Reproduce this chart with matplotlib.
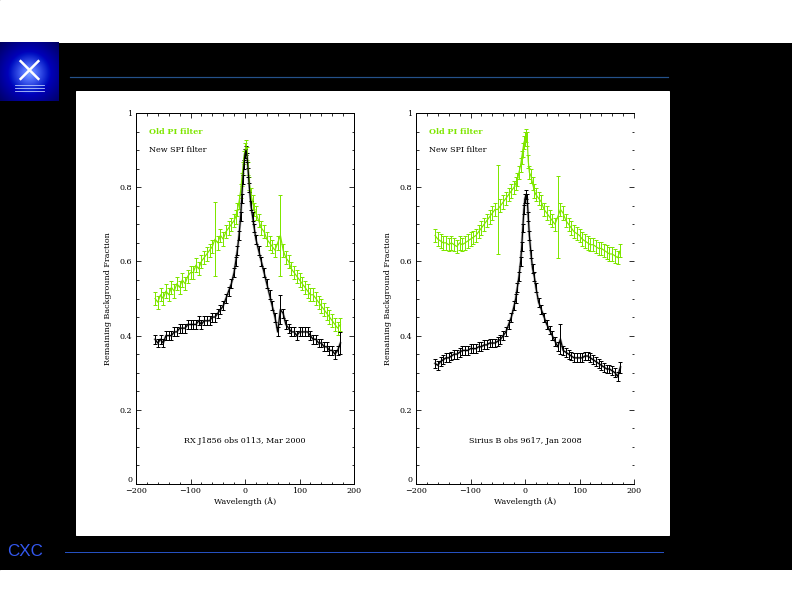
#plot.py
"""Remaining background fraction vs wavelength, old PI filter vs new SPI filter."""

import numpy as np
import matplotlib
matplotlib.use("Agg")
from matplotlib import pyplot as plt
from matplotlib.patches import Rectangle
from matplotlib.lines import Line2D

#Wavelength grid (Angstrom)
wave = [-165, -160, -155, -150, -145, -140, -135, -130, -125, -120, -115, -110,
        -105, -100, -95, -90, -85, -80, -75, -70, -65, -60, -55, -50, -45, -40,
        -35, -30, -25,
        -20, -17, -14, -11, -8, -6, -4, -2, 0, 2, 4, 6, 8, 11, 14, 17, 20,
        25, 30, 35, 40, 45, 50, 55, 60, 65, 70, 75, 80, 85, 90, 95, 100, 105,
        110, 115, 120, 125, 130, 135, 140, 145, 150, 155, 160, 165, 170, 175]

#RX J1856, obs 0113
rxj_old = [0.50, 0.49, 0.51, 0.50, 0.52, 0.51, 0.53, 0.52, 0.54, 0.53, 0.55, 0.54,
           0.56, 0.57, 0.57, 0.59, 0.58, 0.60, 0.61, 0.62, 0.63, 0.64, 0.66, 0.65,
           0.67, 0.66, 0.68, 0.69, 0.70,
           0.71, 0.72, 0.74, 0.76, 0.79, 0.82, 0.85, 0.88, 0.90, 0.91, 0.89, 0.85,
           0.81, 0.78, 0.76, 0.74, 0.73,
           0.71, 0.69, 0.68, 0.66, 0.65, 0.64, 0.63, 0.65, 0.67, 0.63, 0.61, 0.60,
           0.58, 0.57, 0.56, 0.55, 0.54, 0.53, 0.52, 0.51, 0.51, 0.50, 0.49, 0.48,
           0.47, 0.46, 0.45, 0.44, 0.43, 0.42, 0.43]
rxj_new = [0.39, 0.38, 0.39, 0.38, 0.40, 0.40, 0.40, 0.41, 0.41, 0.42, 0.42, 0.42,
           0.43, 0.43, 0.43, 0.43, 0.44, 0.43, 0.44, 0.44, 0.44, 0.45, 0.45, 0.46,
           0.47, 0.48, 0.50, 0.52, 0.54,
           0.57, 0.60, 0.63, 0.67, 0.72, 0.77, 0.82, 0.86, 0.89, 0.90, 0.88, 0.84,
           0.80, 0.75, 0.72, 0.69, 0.66,
           0.63, 0.60, 0.57, 0.54, 0.51, 0.48, 0.45, 0.41, 0.47, 0.46, 0.43, 0.42,
           0.41, 0.41, 0.40, 0.41, 0.41, 0.41, 0.41, 0.40, 0.39, 0.39, 0.38, 0.38,
           0.37, 0.37, 0.36, 0.36, 0.35, 0.36, 0.38]

#Sirius B, obs 9617
sir_old = [0.67, 0.66, 0.655, 0.65, 0.65, 0.645, 0.65, 0.645, 0.64, 0.65, 0.645, 0.65,
           0.655, 0.66, 0.665, 0.67, 0.68, 0.69, 0.70, 0.71, 0.72, 0.73, 0.74, 0.74,
           0.75, 0.76, 0.77, 0.78, 0.79,
           0.80, 0.81, 0.82, 0.84, 0.86, 0.88, 0.90, 0.92, 0.93, 0.94, 0.93, 0.87,
           0.84, 0.83, 0.81, 0.79, 0.78,
           0.77, 0.76, 0.74, 0.73, 0.72, 0.71, 0.70, 0.72, 0.74, 0.73, 0.71, 0.70,
           0.69, 0.68, 0.675, 0.67, 0.66, 0.655, 0.65, 0.645, 0.645, 0.64, 0.635,
           0.635, 0.63, 0.625, 0.62, 0.62, 0.615, 0.61, 0.63]
sir_new = [0.325, 0.32, 0.33, 0.335, 0.34, 0.34, 0.345, 0.35, 0.35, 0.355, 0.36, 0.36,
           0.36, 0.365, 0.365, 0.365, 0.37, 0.37, 0.375, 0.375, 0.38, 0.38, 0.38,
           0.385, 0.39, 0.40, 0.41, 0.43, 0.45,
           0.48, 0.50, 0.53, 0.56, 0.60, 0.64, 0.69, 0.74, 0.77, 0.78, 0.77, 0.72,
           0.67, 0.62, 0.58, 0.56, 0.53,
           0.49, 0.47, 0.45, 0.43, 0.415, 0.40, 0.385, 0.37, 0.39, 0.36, 0.355, 0.35,
           0.345, 0.34, 0.34, 0.34, 0.34, 0.345, 0.345, 0.34, 0.335, 0.33, 0.325,
           0.32, 0.315, 0.31, 0.31, 0.305, 0.30, 0.29, 0.315]

#Typical error sizes, plus a few large outliers {wavelength: error}
err_old = 0.018
err_new = 0.012
rxj_old_big = {-55: 0.10, 65: 0.11}
rxj_new_big = {65: 0.04, 175: 0.03}
sir_old_big = {-50: 0.12, 60: 0.11}
sir_new_big = {65: 0.04, 175: 0.015}

panels = [
    ("RX J1856 obs 0113, Mar 2000", rxj_old, rxj_new, rxj_old_big, rxj_new_big),
    ("Sirius B obs 9617, Jan 2008", sir_old, sir_new, sir_old_big, sir_new_big),
]

GREEN = "#7ee600"
W, H = 792, 612


def errs(base, big):
    e = np.full(len(wave), base)
    for w, v in big.items():
        e[wave.index(w)] = v
    return e


fig = plt.figure(figsize=(W / 72, H / 72), dpi=72, facecolor="black")

#Slide decorations
fig.add_artist(Rectangle((0, 1 - 42 / H), 1, 42 / H, transform=fig.transFigure,
                         color="white", zorder=0))
fig.add_artist(Rectangle((0, 0), 1, 42 / H, transform=fig.transFigure,
                         color="white", zorder=0))
fig.add_artist(Rectangle((76 / W, 1 - 535 / H), (669 - 76) / W, (535 - 91) / H,
                         transform=fig.transFigure, color="white", zorder=0))
fig.add_artist(Line2D([70 / W, 668 / W], [1 - 77 / H] * 2, color="#24518a", lw=1.2))
fig.add_artist(Line2D([65 / W, 663 / W], [1 - 552 / H] * 2, color="#2550c0", lw=1))
fig.text(7 / W, 1 - 552 / H, "CXC", color="#3358ee", fontsize=17,
         va="center", ha="left", family="Liberation Sans")

#Logo: blue glow with an X
logo = fig.add_axes([0, 1 - 101 / H, 59 / W, 59 / H])
yy, xx = np.mgrid[-1:1:60j, -1:1:60j]
rr = np.sqrt(xx ** 2 + (yy + 0.05) ** 2)
glow = np.zeros((60, 60, 3))
glow[..., 2] = np.clip(1.1 - 0.5 * rr, 0, 1)
glow[..., 0] = np.clip(0.8 - 1.2 * rr, 0, 1) * 0.6
glow[..., 1] = np.clip(0.9 - 1.2 * rr, 0, 1) * 0.7
logo.imshow(glow, extent=[-1, 1, -1, 1], origin="lower")
logo.plot([-0.3, 0.3], [-0.25, 0.35], color="white", lw=2.5)
logo.plot([-0.3, 0.3], [0.35, -0.25], color="white", lw=2.5)
for yv in [-0.45, -0.55, -0.65]:
    logo.plot([-0.5, 0.5], [yv, yv], color="#c0d0ff", lw=0.8)
logo.axis("off")

font = "DejaVu Serif"
fs = 8
for i, (label, old, new, old_big, new_big) in enumerate(panels):
    left = (136 if i == 0 else 416) / W
    ax = fig.add_axes([left, 1 - 484 / H, 218 / W, 371 / H])
    ax.set_facecolor("white")

    ax.errorbar(wave, old, yerr=errs(err_old, old_big), color=GREEN, lw=1.2,
                elinewidth=1, capsize=2, capthick=1)
    ax.plot(wave, new, color="#909090", lw=2.6, alpha=0.6)
    ax.errorbar(wave, new, yerr=errs(err_new, new_big), color="black", lw=1.2,
                elinewidth=1, capsize=2, capthick=1)

    ax.set_xlim(-200, 200)
    ax.set_ylim(0, 1)
    ax.set_xticks([-200, -100, 0, 100, 200])
    ax.set_xticklabels(["\u2212200", "\u2212100", "0", "100", "200"])
    ax.set_xticks(np.arange(-200, 201, 20), minor=True)
    ax.set_yticks([0, 0.2, 0.4, 0.6, 0.8, 1])
    ax.set_yticklabels(["0", "0.2", "0.4", "0.6", "0.8", "1"])
    ax.set_yticks(np.arange(0, 1.01, 0.05), minor=True)
    ax.tick_params(which="both", direction="in", top=True, right=True,
                   labelsize=fs, width=0.8)
    ax.tick_params(axis="x", pad=3)
    ax.tick_params(axis="y", pad=4)
    ax.tick_params(which="major", length=5)
    ax.tick_params(which="minor", length=2.5)
    for lab in ax.get_xticklabels() + ax.get_yticklabels():
        lab.set_family(font)
    #the "0" sits just above the corner, clear of "-200"
    ax.get_yticklabels()[0].set_verticalalignment("bottom")
    for sp in ax.spines.values():
        sp.set_linewidth(1)
    if i == 1:
        ax.spines["right"].set_visible(False)

    ax.set_xlabel("Wavelength (\u00c5)", fontsize=fs, family=font, labelpad=2)
    ax.set_ylabel("Remaining Background Fraction", fontsize=fs, family=font,
                  labelpad=7)

    ax.text(-176, 0.95, "Old PI filter", color=GREEN, fontsize=fs, family=font,
            fontweight="bold", va="center")
    ax.text(-176, 0.90, "New SPI filter", color="black", fontsize=fs, family=font,
            va="center")
    ax.text(0, 0.115, label, color="black", fontsize=fs, family=font,
            ha="center", va="center")

fig.savefig("out.png", dpi=72, facecolor="black")
